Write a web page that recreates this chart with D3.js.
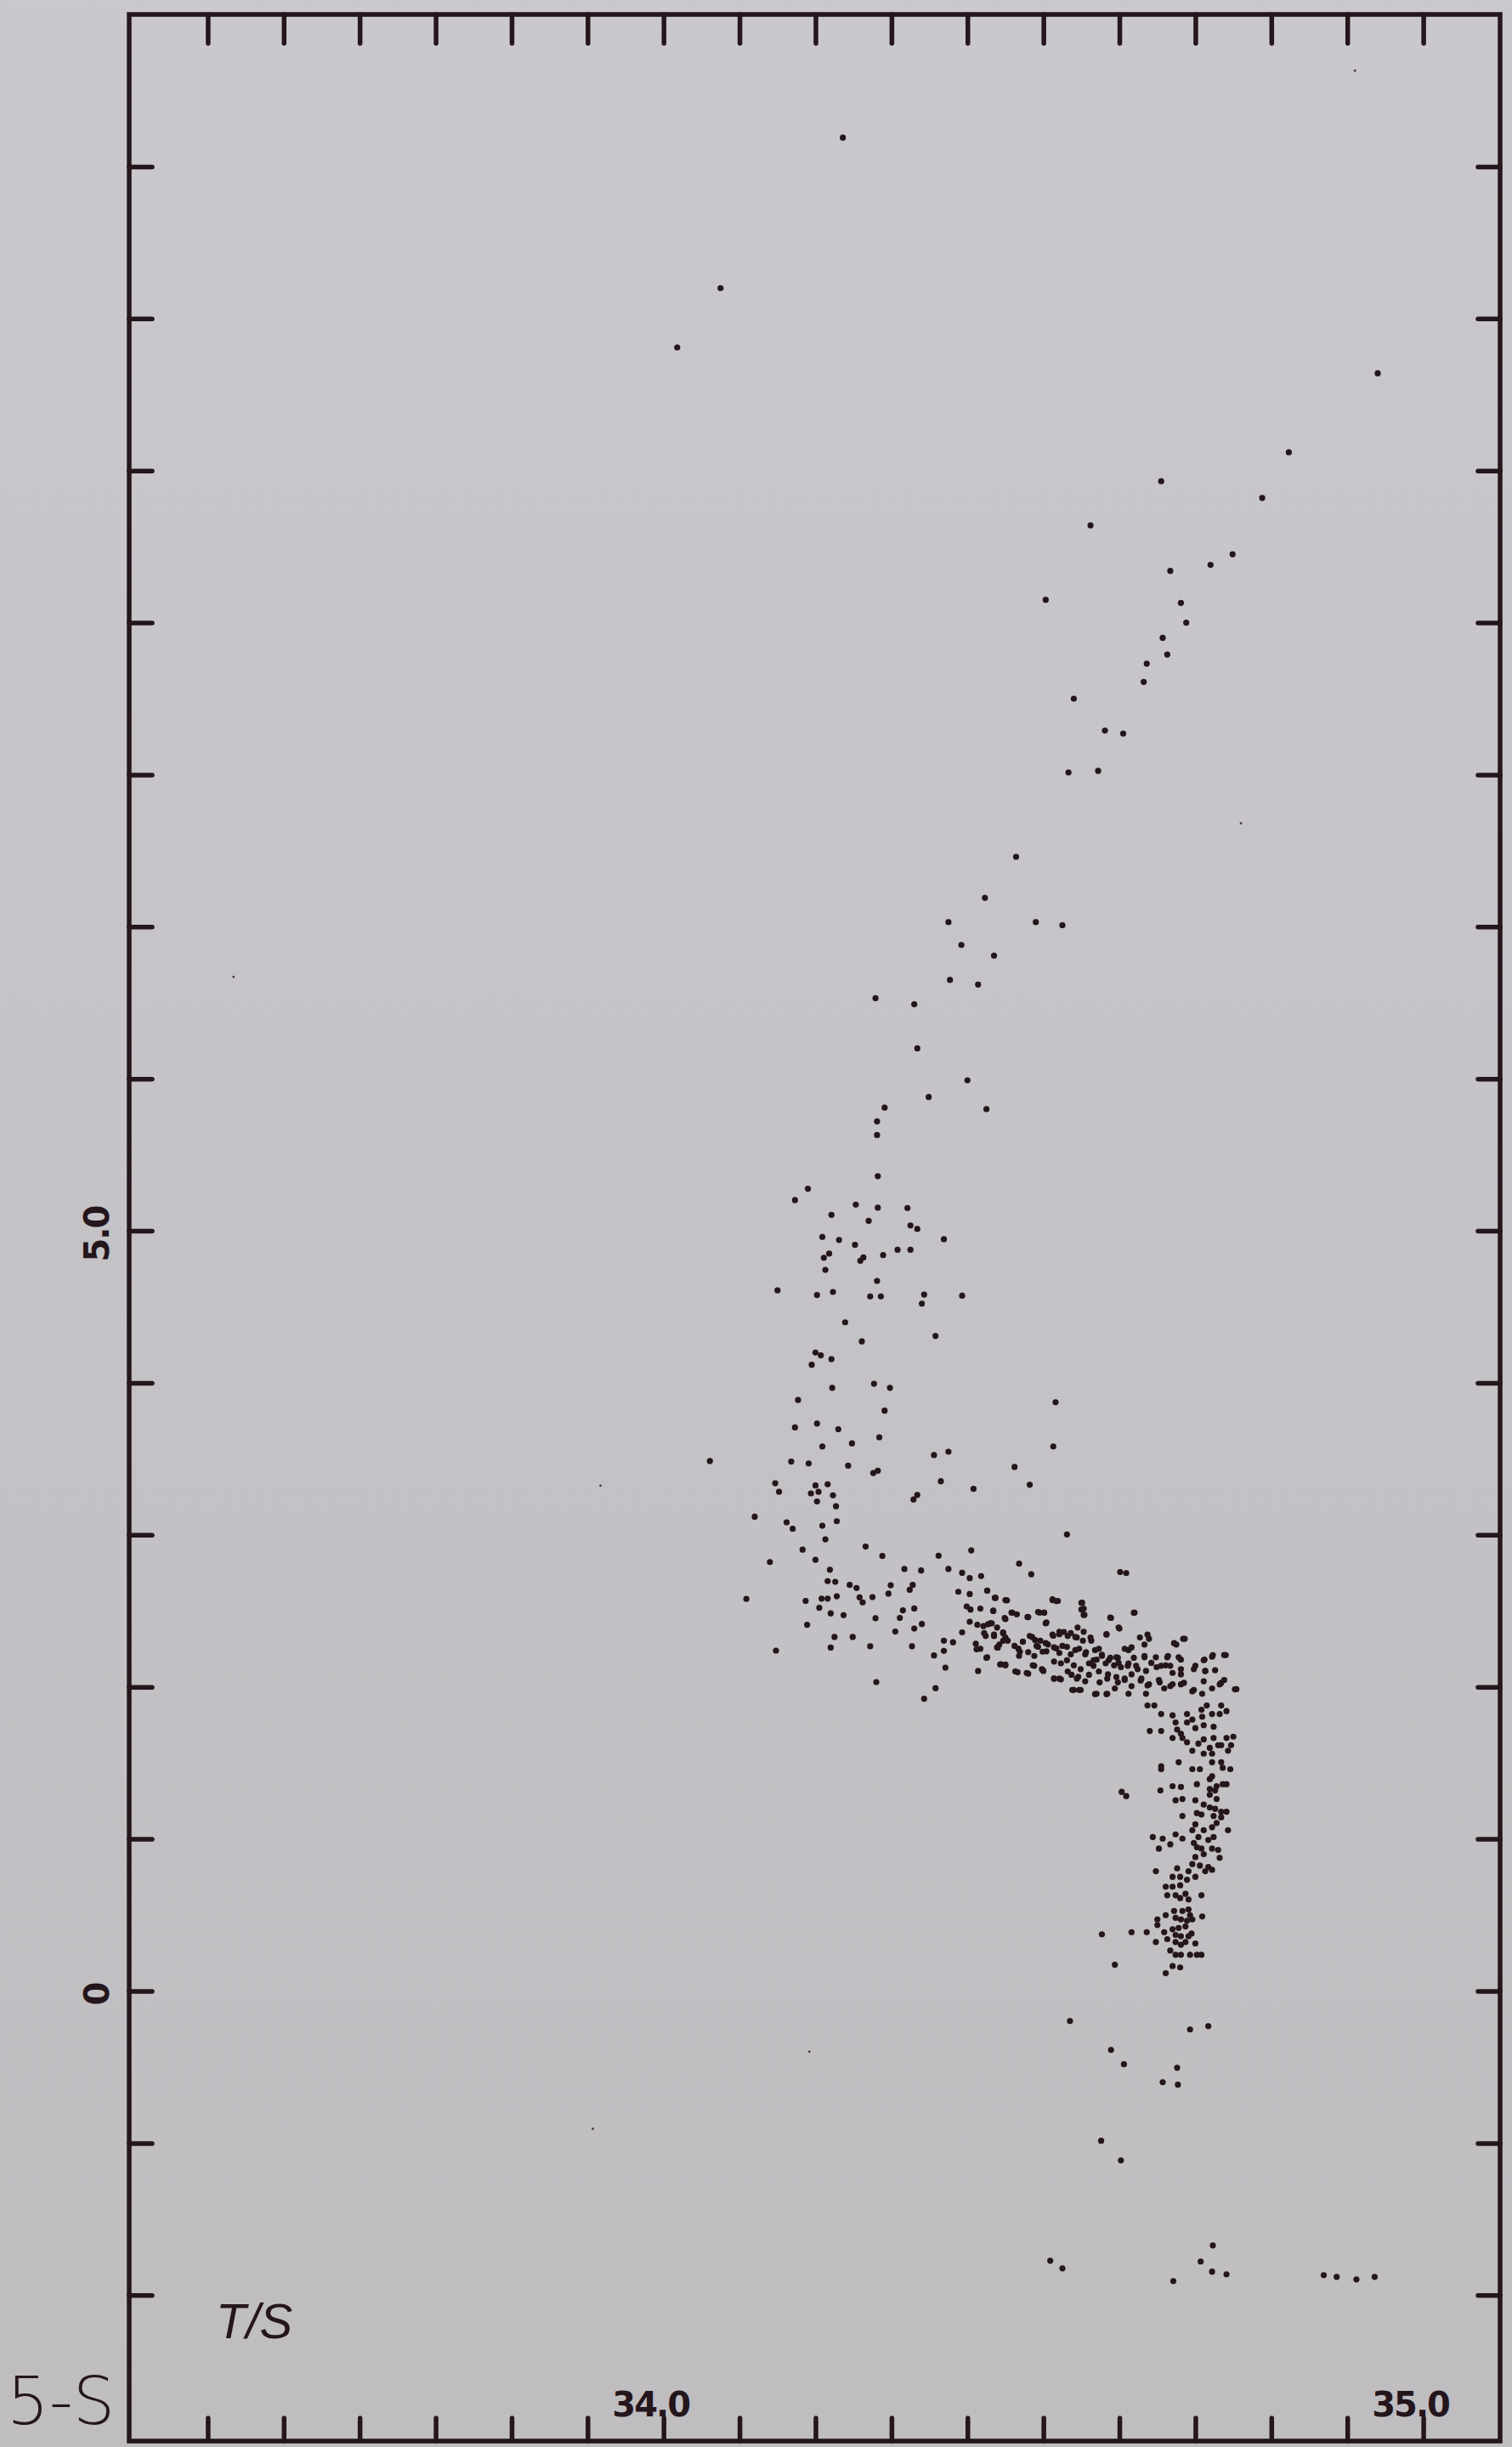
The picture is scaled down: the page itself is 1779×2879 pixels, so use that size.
<!DOCTYPE html>
<html>
<head>
<meta charset="utf-8">
<script src="https://cdn.jsdelivr.net/npm/d3@7"></script>
<style>
  html, body { margin: 0; padding: 0; background: #c6c4c8; }
  svg { display: block; }
</style>
</head>
<body>
<script>
// Potential temperature (°C) against salinity for station 5-S.
// Each pair is [salinity, temperature].

// warm surface layer, above 5.5 °C
const tsUpper = [[34.236,12.19],[34.075,11.20],[34.018,10.81],[34.940,10.64],[34.823,10.12],[34.655,9.93],[34.788,9.82],[34.562,9.64],[34.749,9.45],[34.720,9.38],[34.667,9.34],[34.503,9.15],[34.681,9.13],[34.688,9.00],[34.657,8.90],[34.663,8.79],[34.636,8.73],[34.632,8.61],[34.540,8.50],[34.581,8.29],[34.605,8.27],[34.533,8.015],[34.572,8.025],[34.464,7.46],[34.423,7.19],[34.490,7.03],[34.525,7.01],[34.375,7.03],[34.392,6.88],[34.435,6.81],[34.377,6.65],[34.414,6.62],[34.279,6.53],[34.330,6.49],[34.334,6.20],[34.349,5.88],[34.400,5.99],[34.425,5.80],[34.291,5.81],[34.281,5.72],[34.281,5.63]];

// fresher intermediate water, 2 to 5.5 °C
const tsMid = [[34.282,5.359],[34.190,5.277],[34.173,5.202],[34.253,5.172],[34.282,5.152],[34.321,5.150],[34.221,5.105],[34.270,5.065],[34.325,5.035],[34.334,5.012],[34.369,4.945],[34.209,4.960],[34.231,4.940],[34.252,4.908],[34.308,4.875],[34.325,4.875],[34.218,4.850],[34.211,4.823],[34.263,4.825],[34.259,4.803],[34.289,4.840],[34.213,4.743],[34.281,4.670],[34.150,4.608],[34.202,4.578],[34.223,4.598],[34.272,4.568],[34.286,4.568],[34.343,4.581],[34.340,4.521],[34.393,4.573],[34.239,4.398],[34.358,4.308],[34.261,4.273],[34.200,4.199],[34.207,4.181],[34.195,4.119],[34.221,4.156],[34.222,3.967],[34.277,3.994],[34.298,3.967],[34.177,3.887],[34.291,3.817],[34.516,3.872],[34.173,3.707],[34.202,3.732],[34.230,3.695],[34.284,3.642],[34.209,3.582],[34.248,3.602],[34.513,3.582],[34.168,3.482],[34.191,3.470],[34.243,3.455],[34.282,3.422],[34.276,3.407],[34.356,3.525],[34.375,3.547],[34.462,3.447],[34.482,3.330],[34.365,3.353],[34.408,3.303],[34.147,3.340],[34.152,3.283],[34.200,3.325],[34.216,3.333],[34.194,3.273],[34.204,3.283],[34.223,3.260],[34.202,3.220],[34.227,3.188],[34.334,3.263],[34.329,3.233],[34.061,3.486],[34.120,3.120],[34.162,3.083],[34.170,3.040],[34.209,3.060],[34.228,3.090],[34.213,2.971],[34.531,3.003],[34.266,2.923],[34.183,2.903],[34.288,2.861],[34.405,2.898],[34.362,2.863],[34.140,2.821],[34.200,2.836],[34.468,2.811],[34.219,2.771],[34.317,2.776],[34.339,2.766],[34.375,2.776],[34.393,2.751],[34.403,2.716],[34.418,2.729],[34.484,2.741],[34.601,2.756],[34.609,2.749],[34.216,2.696],[34.226,2.691],[34.245,2.671],[34.254,2.651],[34.299,2.669],[34.328,2.671],[34.296,2.614],[34.324,2.639],[34.388,2.626],[34.403,2.611],[34.426,2.634],[34.109,2.579],[34.187,2.566],[34.208,2.581],[34.216,2.581],[34.228,2.596],[34.258,2.589],[34.275,2.591],[34.262,2.556],[34.437,2.586],[34.452,2.569],[34.512,2.576],[34.519,2.566],[34.551,2.554],[34.205,2.521],[34.220,2.484],[34.237,2.472],[34.279,2.452],[34.330,2.516],[34.315,2.504],[34.311,2.454],[34.189,2.409],[34.225,2.329],[34.249,2.329],[34.305,2.364],[34.330,2.384],[34.340,2.414],[34.148,2.239],[34.220,2.259],[34.272,2.267],[34.327,2.267],[34.356,2.207],[34.369,2.237],[34.369,2.304],[34.381,2.294],[34.371,2.127],[34.280,2.032],[34.358,1.992],[34.343,1.922],[34.414,2.105]];

// dense thermocline band, 1.5 to 2.65 °C
const tsBand = [[34.399,2.529],[34.404,2.509],[34.434,2.499],[34.449,2.454],[34.459,2.489],[34.480,2.459],[34.495,2.489],[34.501,2.489],[34.504,2.424],[34.550,2.509],[34.554,2.474],[34.589,2.454],[34.600,2.384],[34.620,2.489],[34.583,2.347],[34.403,2.429],[34.413,2.409],[34.427,2.412],[34.432,2.419],[34.393,2.359],[34.422,2.354],[34.435,2.334],[34.447,2.359],[34.447,2.304],[34.442,2.279],[34.453,2.304],[34.411,2.284],[34.412,2.247],[34.425,2.192],[34.440,2.259],[34.467,2.252],[34.473,2.297],[34.485,2.329],[34.489,2.309],[34.496,2.304],[34.506,2.279],[34.513,2.337],[34.521,2.347],[34.527,2.362],[34.536,2.354],[34.542,2.329],[34.552,2.304],[34.563,2.304],[34.468,2.204],[34.480,2.229],[34.493,2.264],[34.504,2.234],[34.517,2.254],[34.531,2.264],[34.542,2.242],[34.556,2.229],[34.568,2.242],[34.577,2.212],[34.588,2.192],[34.598,2.192],[34.612,2.242],[34.619,2.192],[34.633,2.204],[34.639,2.317],[34.675,2.279],[34.686,2.317],[34.664,2.204],[34.681,2.179],[34.712,2.179],[34.723,2.209],[34.740,2.209],[34.444,2.149],[34.450,2.142],[34.466,2.097],[34.480,2.087],[34.486,2.142],[34.498,2.117],[34.500,2.105],[34.514,2.167],[34.523,2.155],[34.531,2.175],[34.540,2.142],[34.549,2.117],[34.560,2.155],[34.570,2.179],[34.582,2.155],[34.593,2.142],[34.602,2.130],[34.612,2.155],[34.624,2.117],[34.635,2.105],[34.649,2.130],[34.661,2.142],[34.670,2.092],[34.681,2.117],[34.698,2.117],[34.713,2.105],[34.726,2.110],[34.514,2.055],[34.523,2.050],[34.537,2.080],[34.546,2.067],[34.560,2.080],[34.574,2.030],[34.584,2.055],[34.598,2.030],[34.607,2.055],[34.616,2.005],[34.628,2.042],[34.639,2.017],[34.653,2.030],[34.667,2.005],[34.681,2.017],[34.698,1.980],[34.709,1.955],[34.732,2.017],[34.754,1.985],[34.540,1.980],[34.549,1.980],[34.570,1.955],[34.584,1.955],[34.612,1.955],[34.635,1.955],
  [34.426,2.633],[34.436,2.586],[34.450,2.571],[34.512,2.571],[34.517,2.564],[34.550,2.553],[34.553,2.515],[34.553,2.474],[34.417,2.515],[34.434,2.502],[34.458,2.489],[34.465,2.478],[34.479,2.460],[34.493,2.493],[34.501,2.489],[34.588,2.456],[34.619,2.488],[34.450,2.446],[34.503,2.418],[34.421,2.400],[34.430,2.418],[34.439,2.391],[34.447,2.353],[34.450,2.325],[34.424,2.335],[34.435,2.344],[34.462,2.270],[34.473,2.297],[34.482,2.335],[34.491,2.270],[34.503,2.288],[34.512,2.344],[34.521,2.363],[34.525,2.270],[34.532,2.335],[34.544,2.325],[34.545,2.391],[34.553,2.363],[34.562,2.325],[34.573,2.251],[34.583,2.344],[34.596,2.195],[34.599,2.391],[34.607,2.251],[34.616,2.260],[34.627,2.325],[34.637,2.344],[34.633,2.279],[34.648,2.195],[34.663,2.195],[34.672,2.288],[34.684,2.316],[34.678,2.195],[34.700,2.139],[34.711,2.176],[34.722,2.199],[34.738,2.210],[34.417,2.251],[34.426,2.195],[34.439,2.260],[34.469,2.232],[34.488,2.204],[34.499,2.232],[34.514,2.260],[34.521,2.223],[34.536,2.214],[34.547,2.251],[34.555,2.214],[34.566,2.176],[34.577,2.204],[34.586,2.176],[34.599,2.158],[34.611,2.139],[34.622,2.139],[34.633,2.195],[34.642,2.158],[34.655,2.139],[34.667,2.139],[34.443,2.148],[34.450,2.148],[34.463,2.102],[34.478,2.092],[34.488,2.139],[34.499,2.111],[34.514,2.055],[34.521,2.055],[34.532,2.102],[34.544,2.055],[34.555,2.037],[34.566,2.139],[34.573,2.102],[34.585,2.083],[34.596,2.065],[34.607,2.046],[34.616,2.083],[34.629,2.055],[34.637,2.009],[34.652,2.046],[34.659,1.990],[34.670,2.018],[34.681,2.083],[34.685,2.027],[34.696,1.971],[34.711,2.037],[34.722,1.990],[34.734,2.027],[34.738,2.046],[34.752,1.984],[34.713,2.105],[34.538,1.980],[34.547,1.980],[34.568,1.953],[34.583,1.953],[34.594,1.990],
  [34.637,1.878],[34.646,1.878],[34.655,1.822],[34.670,1.813],[34.674,1.766],[34.676,1.720],[34.681,1.692],[34.689,1.822],[34.689,1.766],[34.696,1.785],[34.700,1.729],[34.708,1.850],[34.709,1.804],[34.711,1.748],[34.715,1.878],[34.722,1.822],[34.724,1.738],[34.732,1.822],[34.734,1.878],[34.741,1.841],[34.750,1.673],[34.741,1.664],[34.730,1.617],[34.734,1.617],[34.724,1.664],[34.719,1.599],[34.711,1.655],[34.704,1.627],[34.696,1.580],[34.689,1.636],[34.683,1.664],[34.670,1.664],[34.655,1.710],[34.640,1.710],[34.722,1.561],[34.711,1.561],[34.743,1.580],[34.747,1.617]];

// near-isohaline deep column, 0 to 1.5 °C
const tsDeep = [[34.678,1.505],[34.655,1.478],[34.655,1.459],[34.696,1.459],[34.706,1.459],[34.722,1.505],[34.734,1.505],[34.736,1.468],[34.746,1.459],[34.722,1.412],[34.719,1.394],[34.741,1.360],[34.736,1.360],[34.719,1.329],[34.726,1.319],[34.728,1.347],[34.702,1.360],[34.681,1.342],[34.670,1.347],[34.654,1.319],[34.603,1.310],[34.609,1.282],[34.719,1.291],[34.728,1.263],[34.683,1.263],[34.674,1.254],[34.700,1.254],[34.711,1.226],[34.719,1.207],[34.726,1.198],[34.734,1.179],[34.741,1.179],[34.702,1.170],[34.708,1.161],[34.724,1.151],[34.734,1.142],[34.683,1.151],[34.700,1.096],[34.711,1.058],[34.722,1.077],[34.728,1.105],[34.743,1.058],[34.696,1.058],[34.644,1.012],[34.657,1.002],[34.674,1.030],[34.683,1.002],[34.704,1.012],[34.717,0.993],[34.724,1.012],[34.698,0.974],[34.702,0.946],[34.708,0.937],[34.722,0.937],[34.730,0.928],[34.652,0.937],[34.667,0.965],[34.700,0.881],[34.711,0.900],[34.732,0.876],[34.696,0.835],[34.706,0.825],[34.717,0.816],[34.691,0.788],[34.713,0.788],[34.722,0.797],[34.648,0.788],[34.676,0.807],[34.670,0.751],[34.680,0.751],[34.689,0.732],[34.700,0.751],[34.670,0.686],[34.661,0.686],[34.680,0.695],[34.663,0.630],[34.674,0.630],[34.680,0.611],[34.687,0.639],[34.691,0.602],[34.708,0.630],[34.672,0.527],[34.683,0.527],[34.691,0.536],[34.693,0.499],[34.650,0.471],[34.661,0.499],[34.674,0.481],[34.681,0.471],[34.689,0.462],[34.696,0.471],[34.709,0.490],[34.650,0.434],[34.659,0.387],[34.670,0.406],[34.678,0.415],[34.687,0.425],[34.695,0.378],[34.674,0.369],[34.681,0.360],[34.691,0.360],[34.648,0.322],[34.663,0.341],[34.674,0.322],[34.681,0.304],[34.687,0.322],[34.700,0.313],[34.667,0.266],[34.674,0.238],[34.681,0.238],[34.693,0.238],[34.702,0.238],[34.708,0.238],[34.670,0.164],[34.680,0.155],[34.661,0.117],[34.616,0.387],[34.636,0.387],[34.577,0.373],[34.594,0.173]];

// bottom water below 0 °C
const tsBottom = [[34.535,-0.197],[34.693,-0.253],[34.717,-0.231],[34.589,-0.387],[34.606,-0.482],[34.676,-0.505],[34.657,-0.600],[34.677,-0.616],[34.576,-0.985],[34.602,-1.114],[34.723,-1.673],[34.707,-1.779],[34.722,-1.846],[34.741,-1.863],[34.671,-1.908],[34.509,-1.774],[34.525,-1.824],[34.869,-1.869],[34.886,-1.880],[34.912,-1.897],[34.936,-1.880]];

// faint single readings
const tsFaint = [[33.917,3.324],[33.907,-0.907],[34.192,-0.399],[33.434,6.67],[34.910,12.63],[34.760,7.68]];

// axis ticks and labels
const salinityTicks = d3.range(0, 17).map(i => +(33.4 + i * 0.1).toFixed(1));
const temperatureTicks = d3.range(-2, 13);
const salinityLabels = [34.0, 35.0];
const temperatureLabels = [5.0, 0];

const W = 1779, H = 2879;
const ink = "#24161c";
const frame = { left: 152, right: 1765, top: 17, bottom: 2872 };

const svg = d3.select("body").append("svg")
  .attr("width", W).attr("height", H);

const defs = svg.append("defs");
const grad = defs.append("linearGradient").attr("id", "paper")
  .attr("x1", 0).attr("y1", 0).attr("x2", 0).attr("y2", 1);
grad.append("stop").attr("offset", "0%").attr("stop-color", "#cac8cc");
grad.append("stop").attr("offset", "100%").attr("stop-color", "#bfbdc0");
svg.append("rect").attr("width", W).attr("height", H).attr("fill", "url(#paper)");

const x = d3.scaleLinear().domain([33.3, 35.1]).range([frame.left + 3, frame.right - 1]);
const y = d3.scaleLinear().domain([-2.96, 13]).range([frame.bottom, frame.top]);

function styleAxis(g) {
  g.select(".domain").remove();
  g.selectAll(".tick line").attr("stroke", ink).attr("stroke-width", 5.5).attr("stroke-linecap", "round");
  g.selectAll(".tick text").remove();
}

// tick marks on all four sides, pointing inward
svg.append("g").attr("transform", `translate(0,${frame.top})`)
  .call(d3.axisBottom(x).tickValues(salinityTicks).tickSize(34)).call(styleAxis);
svg.append("g").attr("transform", `translate(0,${frame.bottom})`)
  .call(d3.axisTop(x).tickValues(salinityTicks).tickSize(27)).call(styleAxis);
svg.append("g").attr("transform", `translate(${frame.left},0)`)
  .call(d3.axisRight(y).tickValues(temperatureTicks).tickSize(27)).call(styleAxis);
svg.append("g").attr("transform", `translate(${frame.right},0)`)
  .call(d3.axisLeft(y).tickValues(temperatureTicks).tickSize(26)).call(styleAxis);

// frame
svg.append("rect")
  .attr("x", frame.left).attr("y", frame.top)
  .attr("width", frame.right - frame.left).attr("height", frame.bottom - frame.top)
  .attr("fill", "none").attr("stroke", ink).attr("stroke-width", 5.5);

// salinity labels
svg.append("g").selectAll("text").data(salinityLabels).join("text")
  .attr("x", d => x(d) - 15)
  .attr("y", frame.bottom - 29)
  .attr("text-anchor", "middle")
  .attr("font-family", "'DejaVu Sans', sans-serif")
  .attr("font-weight", "bold")
  .attr("font-size", 40)
  .attr("letter-spacing", -2)
  .attr("fill", ink)
  .text(d => d.toFixed(1));

// temperature labels, rotated
svg.append("g").selectAll("text").data(temperatureLabels).join("text")
  .attr("transform", d => `translate(114,${y(d) + 4}) rotate(-90)`)
  .attr("text-anchor", "middle")
  .attr("dominant-baseline", "central")
  .attr("font-family", "'DejaVu Sans', sans-serif")
  .attr("font-weight", "bold")
  .attr("font-size", 40)
  .attr("letter-spacing", -2)
  .attr("fill", ink)
  .text(d => d === 0 ? "0" : d.toFixed(1));

// panel title and station tag
svg.append("text")
  .attr("x", 254).attr("y", 2751)
  .attr("font-family", "'Liberation Sans', Arial, sans-serif")
  .attr("font-style", "italic")
  .attr("font-size", 58)
  .attr("fill", ink)
  .text("T/S");

svg.append("text")
  .attr("x", 8).attr("y", 2852)
  .attr("font-family", "'DejaVu Sans', sans-serif")
  .attr("font-weight", 200)
  .attr("font-size", 78)
  .attr("fill", ink)
  .text("5-S");

// observations
const all = [].concat(tsUpper, tsMid, tsBand, tsDeep, tsBottom);
svg.append("g").selectAll("circle").data(all).join("circle")
  .attr("cx", d => x(d[0]))
  .attr("cy", d => y(d[1]))
  .attr("r", 3.6)
  .attr("fill", ink);

svg.append("g").selectAll("circle").data(tsFaint).join("circle")
  .attr("cx", d => x(d[0]))
  .attr("cy", d => y(d[1]))
  .attr("r", 1.4)
  .attr("fill", ink)
  .attr("opacity", 0.8);
</script>
</body>
</html>
